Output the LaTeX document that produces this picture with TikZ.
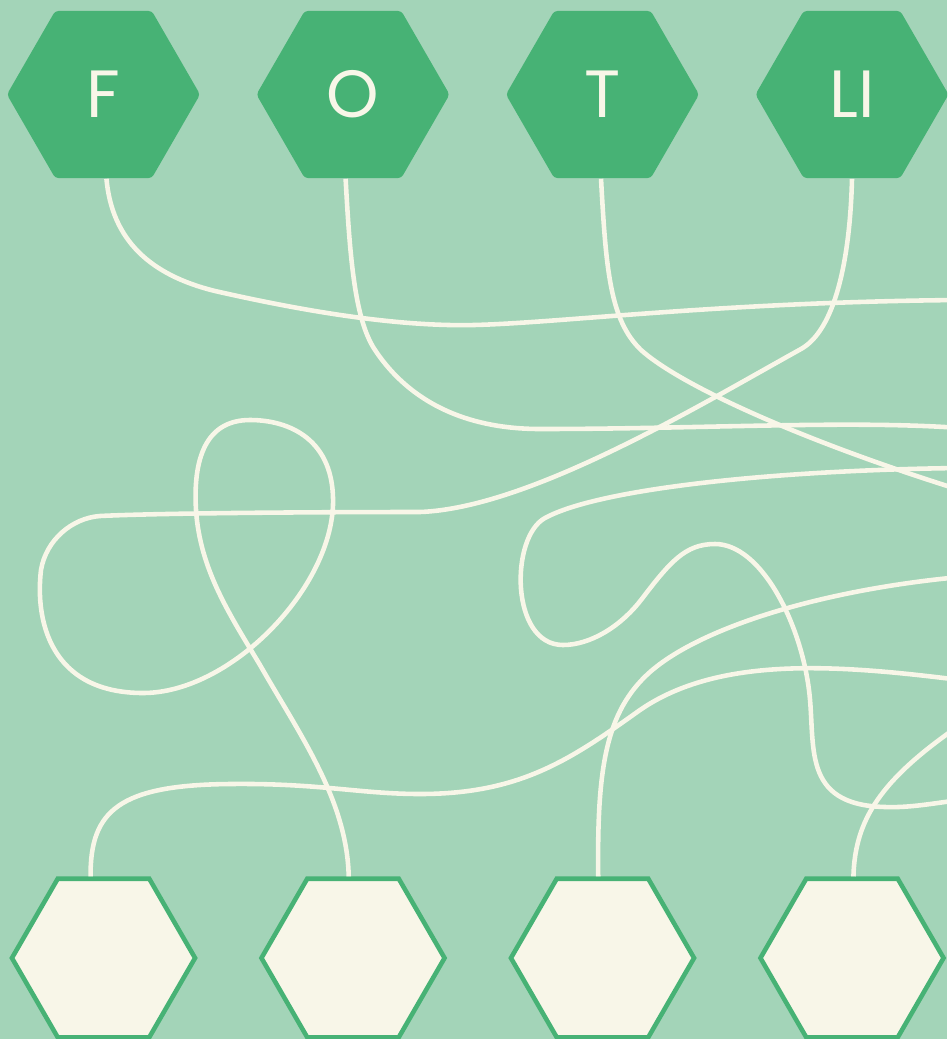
\documentclass[tikz,border=0pt]{standalone}
\usepackage{fontspec}
\newfontfamily\hexfont{Poppins}
\usetikzlibrary{shapes.geometric}
\definecolor{meadow}{HTML}{A3D4B8}
\definecolor{leaf}{HTML}{47B275}
\definecolor{cream}{HTML}{F8F6E8}

\tikzset{
  tophex/.style={regular polygon, regular polygon sides=6, minimum size=1.93cm,
    inner sep=0pt, fill=leaf, rounded corners=1pt, text=cream,
    font=\fontsize{19}{22}\selectfont\hexfont},
  slothex/.style={regular polygon, regular polygon sides=6, minimum size=1.83cm,
    inner sep=0pt, fill=cream, draw=leaf, line width=1.3pt},
  strand/.style={draw=cream, line width=1.3pt}
}

\begin{document}
\begin{tikzpicture}[x=0.01cm,y=-0.01cm]
  % --- background ---
  \fill[meadow] (0,0) rectangle (947,1039);
  \useasboundingbox (0,0) rectangle (947,1039);
  \clip (0,0) rectangle (947,1039);

  % --- letter hexagons (top row) ---
  \foreach \name [count=\i from 0] in {F,O,T,LI}{
    \node[tophex] (hex\name) at (103.5+249.5*\i,94.5) {\name};
  }

  % --- empty slots (bottom row) ---
  \foreach \i in {1,...,4}{
    \node[slothex] (slot\i) at (-146+249.5*\i,958) {};
  }

  % --- loose ends past the right edge ---
  \coordinate (outF) at (960,300);
  \coordinate (outO) at (960,428);
  \coordinate (outT) at (960,490);
  \coordinate (outA) at (960,468);
  \coordinate (outB) at (960,800);
  \coordinate (out1) at (960,680);
  \coordinate (out3) at (960,577);
  \coordinate (out4) at (960,725);

  % --- strands from the letters ---
  \draw[strand] (hexF.-88) .. controls (112,240) and (150,275) .. (215,291)
    .. controls (290,308) and (390,327) .. (474,325)
    .. controls (560,323) and (720,302) .. (outF);
  \draw[strand] (hexO.-95.5) .. controls (350,260) and (355,320) .. (375,350)
    .. controls (395,380) and (440,429) .. (540,429)
    .. controls (700,429) and (850,420) .. (outO);
  \draw[strand] (hexT.-91) .. controls (606,270) and (610,320) .. (641,350)
    .. controls (680,385) and (800,440) .. (outT);
  \draw[strand] (hexLI.south) .. controls (850,260) and (835,330) .. (801,349)
    .. controls (700,405) and (530,508) .. (420,512)
    .. controls (320,512) and (160,513) .. (100,516)
    .. controls (72,518) and (46,540) .. (41,570)
    .. controls (35,620) and (50,693) .. (143,693)
    .. controls (230,693) and (330,590) .. (333,505)
    .. controls (335,440) and (290,420) .. (250,420)
    .. controls (205,420) and (193,460) .. (196,510)
    .. controls (200,570) and (230,615) .. (260,665)
    .. controls (300,735) and (347,800) .. (slot2.93.6);

  % --- strands from the slots ---
  \draw[strand] (slot1.99) .. controls (90,810) and (120,785) .. (230,784)
    .. controls (320,783) and (360,794) .. (420,794)
    .. controls (520,794) and (570,760) .. (640,710)
    .. controls (720,655) and (840,665) .. (out1);
  \draw[strand] (slot3.93) .. controls (597,770) and (605,712) .. (650,672)
    .. controls (700,628) and (820,590) .. (out3);
  \draw[strand] (slot4.89) .. controls (855,820) and (880,780) .. (out4);

  % --- loose strand, both ends off the edge ---
  \draw[strand] (outA) .. controls (780,470) and (600,488) .. (545,518)
    .. controls (510,537) and (510,645) .. (563,645)
    .. controls (590,645) and (620,627) .. (641,600)
    .. controls (670,562) and (685,544) .. (715,544)
    .. controls (760,544) and (800,620) .. (809,690)
    .. controls (816,745) and (800,805) .. (885,807)
    .. controls (910,808) and (935,803) .. (outB);
\end{tikzpicture}
\end{document}
